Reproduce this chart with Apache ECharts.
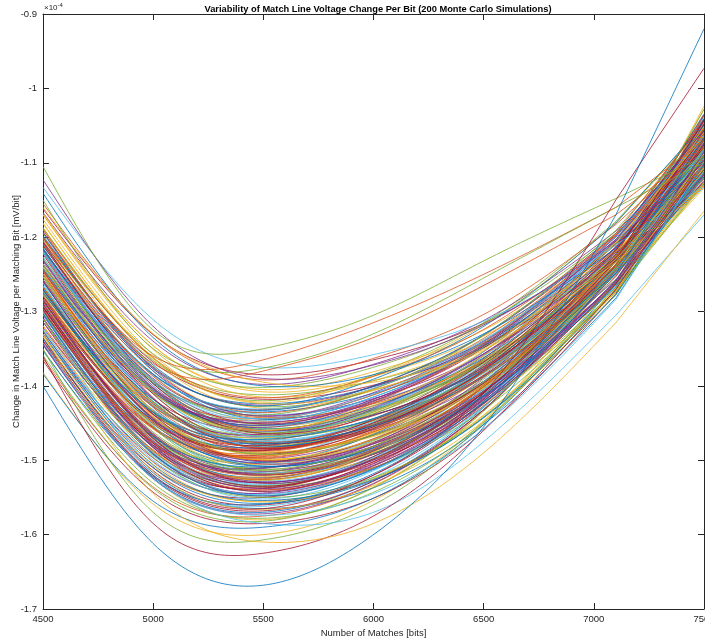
<!DOCTYPE html>
<html>
<head>
<meta charset="utf-8">
<script src="https://cdn.jsdelivr.net/npm/echarts@6/dist/echarts.min.js"></script>
<style>
  html, body { margin: 0; padding: 0; background: #fff; }
  #chart { width: 705px; height: 643px; }
</style>
</head>
<body>
<div id="chart"></div>
<script>
// Number of matching bits at which each simulated run was evaluated
const matches = [4500, 5000, 5500, 6000, 6500, 7100, 7500];

// Axis ticks
const xTicks = [4500, 5000, 5500, 6000, 6500, 7000, 7500];
const yTicks = [-1.7, -1.6, -1.5, -1.4, -1.3, -1.2, -1.1, -1.0, -0.9];

// Match line voltage change per matching bit (x1e-4 mV/bit), one row per Monte Carlo run
const runs001to020 = [
  [-1.242,-1.422,-1.478,-1.452,-1.382,-1.240,-1.101],
  [-1.319,-1.486,-1.525,-1.488,-1.401,-1.233,-1.058],
  [-1.187,-1.375,-1.442,-1.422,-1.364,-1.240,-1.126],
  [-1.279,-1.451,-1.498,-1.466,-1.387,-1.232,-1.075],
  [-1.188,-1.363,-1.420,-1.385,-1.315,-1.179,-1.050],
  [-1.304,-1.488,-1.542,-1.511,-1.427,-1.260,-1.086],
  [-1.268,-1.428,-1.465,-1.433,-1.359,-1.213,-1.070],
  [-1.277,-1.456,-1.508,-1.483,-1.411,-1.262,-1.113],
  [-1.274,-1.443,-1.487,-1.457,-1.382,-1.232,-1.083],
  [-1.334,-1.524,-1.580,-1.536,-1.433,-1.239,-1.028],
  [-1.241,-1.406,-1.450,-1.418,-1.346,-1.205,-1.067],
  [-1.284,-1.462,-1.512,-1.490,-1.419,-1.272,-1.125],
  [-1.214,-1.406,-1.475,-1.444,-1.371,-1.224,-1.079],
  [-1.339,-1.510,-1.550,-1.511,-1.418,-1.239,-1.049],
  [-1.215,-1.397,-1.457,-1.432,-1.368,-1.234,-1.106],
  [-1.296,-1.458,-1.495,-1.457,-1.374,-1.213,-1.049],
  [-1.170,-1.346,-1.405,-1.381,-1.325,-1.207,-1.103],
  [-1.289,-1.474,-1.530,-1.495,-1.409,-1.241,-1.067],
  [-1.261,-1.427,-1.470,-1.447,-1.381,-1.245,-1.113],
  [-1.250,-1.439,-1.502,-1.471,-1.394,-1.240,-1.084]
];
const runs021to040 = [
  [-1.336,-1.514,-1.560,-1.520,-1.424,-1.241,-1.044],
  [-1.237,-1.396,-1.435,-1.410,-1.349,-1.221,-1.103],
  [-1.284,-1.465,-1.518,-1.481,-1.395,-1.229,-1.056],
  [-1.265,-1.435,-1.481,-1.461,-1.398,-1.263,-1.134],
  [-1.293,-1.479,-1.535,-1.499,-1.412,-1.242,-1.064],
  [-1.201,-1.374,-1.428,-1.406,-1.348,-1.225,-1.113],
  [-1.266,-1.449,-1.505,-1.473,-1.394,-1.237,-1.078],
  [-1.254,-1.418,-1.460,-1.439,-1.377,-1.245,-1.122],
  [-1.344,-1.524,-1.570,-1.528,-1.429,-1.241,-1.037],
  [-1.274,-1.442,-1.485,-1.453,-1.376,-1.225,-1.074],
  [-1.273,-1.434,-1.472,-1.444,-1.373,-1.230,-1.090],
  [-1.308,-1.492,-1.545,-1.508,-1.418,-1.244,-1.060],
  [-1.220,-1.397,-1.452,-1.430,-1.370,-1.241,-1.120],
  [-1.241,-1.429,-1.492,-1.452,-1.368,-1.205,-1.039],
  [-1.162,-1.331,-1.385,-1.365,-1.316,-1.209,-1.120],
  [-1.287,-1.468,-1.520,-1.487,-1.404,-1.241,-1.074],
  [-1.253,-1.410,-1.446,-1.412,-1.340,-1.198,-1.061],
  [-1.330,-1.508,-1.555,-1.525,-1.440,-1.271,-1.093],
  [-1.230,-1.417,-1.480,-1.459,-1.394,-1.257,-1.124],
  [-1.293,-1.465,-1.510,-1.474,-1.391,-1.228,-1.060]
];
const runs041to060 = [
  [-1.219,-1.402,-1.462,-1.431,-1.360,-1.217,-1.077],
  [-1.327,-1.497,-1.538,-1.499,-1.408,-1.233,-1.048],
  [-1.212,-1.377,-1.424,-1.401,-1.343,-1.220,-1.108],
  [-1.244,-1.435,-1.500,-1.471,-1.396,-1.244,-1.091],
  [-1.382,-1.559,-1.600,-1.554,-1.447,-1.245,-1.024],
  [-1.257,-1.424,-1.468,-1.445,-1.381,-1.245,-1.116],
  [-1.284,-1.469,-1.526,-1.491,-1.406,-1.239,-1.066],
  [-1.210,-1.384,-1.438,-1.420,-1.364,-1.243,-1.133],
  [-1.294,-1.456,-1.493,-1.458,-1.377,-1.219,-1.060],
  [-1.237,-1.418,-1.476,-1.449,-1.379,-1.237,-1.097],
  [-1.302,-1.490,-1.548,-1.507,-1.413,-1.233,-1.042],
  [-1.240,-1.408,-1.455,-1.431,-1.367,-1.234,-1.108],
  [-1.285,-1.464,-1.515,-1.483,-1.402,-1.242,-1.078],
  [-1.203,-1.366,-1.412,-1.393,-1.342,-1.228,-1.129],
  [-1.292,-1.477,-1.532,-1.497,-1.411,-1.243,-1.068],
  [-1.258,-1.433,-1.484,-1.445,-1.363,-1.204,-1.042],
  [-1.336,-1.517,-1.565,-1.537,-1.452,-1.282,-1.103],
  [-1.244,-1.404,-1.444,-1.412,-1.342,-1.203,-1.069],
  [-1.278,-1.455,-1.506,-1.476,-1.398,-1.243,-1.086],
  [-1.217,-1.403,-1.466,-1.431,-1.354,-1.205,-1.056]
];
const runs061to080 = [
  [-1.272,-1.444,-1.490,-1.467,-1.399,-1.257,-1.117],
  [-1.283,-1.470,-1.528,-1.495,-1.411,-1.245,-1.074],
  [-1.218,-1.385,-1.432,-1.400,-1.332,-1.197,-1.068],
  [-1.330,-1.510,-1.558,-1.527,-1.442,-1.271,-1.091],
  [-1.280,-1.439,-1.474,-1.438,-1.359,-1.205,-1.052],
  [-1.258,-1.441,-1.498,-1.477,-1.410,-1.269,-1.130],
  [-1.167,-1.340,-1.398,-1.371,-1.312,-1.192,-1.085],
  [-1.267,-1.456,-1.518,-1.481,-1.395,-1.228,-1.055],
  [-1.236,-1.406,-1.454,-1.430,-1.367,-1.234,-1.109],
  [-1.314,-1.492,-1.540,-1.504,-1.416,-1.244,-1.063],
  [-1.236,-1.421,-1.482,-1.452,-1.378,-1.229,-1.082],
  [-1.363,-1.536,-1.575,-1.532,-1.432,-1.242,-1.036],
  [-1.206,-1.387,-1.448,-1.426,-1.365,-1.237,-1.117],
  [-1.314,-1.476,-1.510,-1.476,-1.394,-1.233,-1.069],
  [-1.227,-1.407,-1.464,-1.437,-1.369,-1.230,-1.096],
  [-1.302,-1.493,-1.552,-1.514,-1.422,-1.244,-1.055],
  [-1.200,-1.368,-1.418,-1.399,-1.346,-1.229,-1.127],
  [-1.299,-1.475,-1.523,-1.491,-1.409,-1.247,-1.081],
  [-1.246,-1.429,-1.488,-1.449,-1.365,-1.205,-1.041],
  [-1.303,-1.467,-1.504,-1.477,-1.403,-1.253,-1.102]
];
const runs081to100 = [
  [-1.220,-1.390,-1.440,-1.417,-1.357,-1.230,-1.113],
  [-1.299,-1.481,-1.534,-1.499,-1.413,-1.245,-1.069],
  [-1.273,-1.434,-1.471,-1.435,-1.358,-1.207,-1.056],
  [-1.366,-1.543,-1.585,-1.551,-1.458,-1.276,-1.080],
  [-1.208,-1.394,-1.459,-1.439,-1.378,-1.249,-1.128],
  [-1.280,-1.451,-1.496,-1.462,-1.382,-1.225,-1.066],
  [-1.181,-1.365,-1.430,-1.406,-1.347,-1.221,-1.107],
  [-1.310,-1.477,-1.516,-1.477,-1.389,-1.220,-1.044],
  [-1.217,-1.410,-1.479,-1.452,-1.381,-1.237,-1.096],
  [-1.345,-1.520,-1.562,-1.523,-1.428,-1.246,-1.051],
  [-1.211,-1.392,-1.451,-1.420,-1.349,-1.209,-1.073],
  [-1.259,-1.447,-1.508,-1.484,-1.413,-1.265,-1.117],
  [-1.290,-1.455,-1.494,-1.462,-1.385,-1.231,-1.076],
  [-1.168,-1.346,-1.408,-1.387,-1.333,-1.217,-1.115],
  [-1.330,-1.502,-1.544,-1.505,-1.414,-1.237,-1.051],
  [-1.220,-1.403,-1.463,-1.435,-1.365,-1.225,-1.089],
  [-1.331,-1.494,-1.528,-1.486,-1.394,-1.219,-1.034],
  [-1.221,-1.411,-1.477,-1.453,-1.386,-1.247,-1.112],
  [-1.384,-1.555,-1.590,-1.551,-1.452,-1.262,-1.056],
  [-1.210,-1.387,-1.443,-1.424,-1.367,-1.243,-1.131]
];
const runs101to120 = [
  [-1.242,-1.434,-1.500,-1.464,-1.382,-1.222,-1.059],
  [-1.206,-1.375,-1.426,-1.401,-1.340,-1.214,-1.099],
  [-1.310,-1.488,-1.536,-1.510,-1.432,-1.273,-1.110],
  [-1.261,-1.426,-1.469,-1.433,-1.354,-1.203,-1.051],
  [-1.286,-1.467,-1.520,-1.488,-1.407,-1.245,-1.080],
  [-1.285,-1.446,-1.483,-1.457,-1.387,-1.244,-1.104],
  [-1.205,-1.380,-1.436,-1.404,-1.336,-1.199,-1.069],
  [-1.319,-1.503,-1.556,-1.525,-1.439,-1.269,-1.089],
  [-1.233,-1.405,-1.456,-1.421,-1.346,-1.200,-1.056],
  [-1.266,-1.454,-1.514,-1.492,-1.422,-1.274,-1.127],
  [-1.265,-1.432,-1.475,-1.449,-1.379,-1.238,-1.100],
  [-1.343,-1.522,-1.568,-1.528,-1.432,-1.247,-1.048],
  [-1.194,-1.380,-1.445,-1.415,-1.347,-1.210,-1.079],
  [-1.297,-1.457,-1.491,-1.466,-1.396,-1.251,-1.109],
  [-1.176,-1.358,-1.422,-1.387,-1.318,-1.181,-1.052],
  [-1.305,-1.482,-1.530,-1.499,-1.417,-1.253,-1.085],
  [-1.253,-1.421,-1.467,-1.445,-1.381,-1.247,-1.119],
  [-1.301,-1.489,-1.547,-1.511,-1.421,-1.247,-1.063],
  [-1.283,-1.447,-1.486,-1.455,-1.380,-1.229,-1.079],
  [-1.270,-1.450,-1.503,-1.465,-1.381,-1.218,-1.050]
];
const runs121to140 = [
  [-1.155,-1.331,-1.392,-1.363,-1.304,-1.183,-1.076],
  [-1.325,-1.488,-1.522,-1.498,-1.425,-1.273,-1.119],
  [-1.216,-1.400,-1.461,-1.429,-1.357,-1.214,-1.074],
  [-1.351,-1.531,-1.578,-1.543,-1.449,-1.267,-1.071],
  [-1.253,-1.425,-1.473,-1.449,-1.383,-1.246,-1.113],
  [-1.293,-1.480,-1.537,-1.495,-1.401,-1.223,-1.035],
  [-1.243,-1.409,-1.453,-1.427,-1.362,-1.228,-1.101],
  [-1.267,-1.445,-1.497,-1.460,-1.378,-1.218,-1.054],
  [-1.170,-1.351,-1.415,-1.393,-1.338,-1.219,-1.114],
  [-1.322,-1.480,-1.511,-1.478,-1.397,-1.238,-1.075],
  [-1.310,-1.496,-1.550,-1.523,-1.442,-1.278,-1.108],
  [-1.221,-1.394,-1.447,-1.415,-1.344,-1.204,-1.069],
  [-1.249,-1.438,-1.501,-1.472,-1.396,-1.243,-1.090],
  [-1.216,-1.384,-1.433,-1.400,-1.331,-1.195,-1.064],
  [-1.300,-1.477,-1.526,-1.492,-1.407,-1.241,-1.069],
  [-1.284,-1.449,-1.489,-1.468,-1.402,-1.263,-1.127],
  [-1.345,-1.525,-1.572,-1.531,-1.432,-1.245,-1.042],
  [-1.238,-1.409,-1.458,-1.433,-1.368,-1.233,-1.105],
  [-1.262,-1.453,-1.517,-1.485,-1.405,-1.245,-1.081],
  [-1.271,-1.438,-1.480,-1.446,-1.368,-1.216,-1.063]
];
const runs141to160 = [
  [-1.198,-1.372,-1.427,-1.391,-1.320,-1.181,-1.048],
  [-1.304,-1.487,-1.540,-1.510,-1.427,-1.261,-1.090],
  [-1.253,-1.423,-1.470,-1.435,-1.359,-1.209,-1.059],
  [-1.259,-1.445,-1.505,-1.481,-1.410,-1.263,-1.116],
  [-1.195,-1.357,-1.402,-1.375,-1.316,-1.195,-1.087],
  [-1.304,-1.483,-1.533,-1.497,-1.410,-1.241,-1.064],
  [-1.207,-1.397,-1.464,-1.440,-1.375,-1.240,-1.110],
  [-1.353,-1.522,-1.559,-1.518,-1.421,-1.238,-1.041],
  [-1.249,-1.424,-1.476,-1.450,-1.381,-1.239,-1.101],
  [-1.249,-1.434,-1.493,-1.463,-1.388,-1.238,-1.087],
  [-1.285,-1.466,-1.519,-1.492,-1.415,-1.259,-1.101],
  [-1.230,-1.394,-1.439,-1.404,-1.332,-1.191,-1.055],
  [-1.323,-1.500,-1.546,-1.513,-1.428,-1.258,-1.081],
  [-1.223,-1.416,-1.484,-1.450,-1.372,-1.218,-1.064],
  [-1.301,-1.468,-1.509,-1.486,-1.414,-1.267,-1.119],
  [-1.190,-1.362,-1.416,-1.387,-1.324,-1.197,-1.079],
  [-1.286,-1.471,-1.527,-1.489,-1.400,-1.230,-1.051],
  [-1.246,-1.408,-1.449,-1.423,-1.357,-1.223,-1.096],
  [-1.359,-1.538,-1.582,-1.537,-1.434,-1.240,-1.028],
  [-1.227,-1.409,-1.468,-1.444,-1.379,-1.243,-1.112]
];
const runs161to180 = [
  [-1.286,-1.449,-1.487,-1.455,-1.379,-1.227,-1.076],
  [-1.326,-1.506,-1.554,-1.526,-1.443,-1.277,-1.103],
  [-1.201,-1.392,-1.460,-1.423,-1.345,-1.195,-1.046],
  [-1.276,-1.450,-1.499,-1.472,-1.398,-1.249,-1.100],
  [-1.193,-1.377,-1.441,-1.409,-1.340,-1.203,-1.071],
  [-1.301,-1.471,-1.513,-1.481,-1.401,-1.243,-1.080],
  [-1.133,-1.311,-1.375,-1.358,-1.313,-1.211,-1.130],
  [-1.290,-1.477,-1.535,-1.498,-1.409,-1.237,-1.057],
  [-1.275,-1.435,-1.472,-1.444,-1.374,-1.231,-1.092],
  [-1.299,-1.476,-1.524,-1.486,-1.399,-1.229,-1.053],
  [-1.332,-1.515,-1.566,-1.534,-1.447,-1.273,-1.088],
  [-1.231,-1.403,-1.453,-1.418,-1.344,-1.199,-1.056],
  [-1.254,-1.436,-1.492,-1.466,-1.395,-1.249,-1.105],
  [-1.222,-1.386,-1.431,-1.403,-1.338,-1.207,-1.085],
  [-1.294,-1.483,-1.542,-1.502,-1.409,-1.231,-1.043],
  [-1.270,-1.436,-1.478,-1.454,-1.388,-1.249,-1.114],
  [-1.298,-1.473,-1.520,-1.485,-1.401,-1.237,-1.066],
  [-1.182,-1.362,-1.424,-1.405,-1.352,-1.234,-1.130],
  [-1.123,-1.320,-1.390,-1.372,-1.318,-1.205,-1.100],
  [-1.350,-1.570,-1.607,-1.560,-1.450,-1.260,-1.090]
];
const runs181to200 = [
  [-1.219,-1.392,-1.444,-1.411,-1.340,-1.199,-1.063],
  [-1.280,-1.470,-1.531,-1.502,-1.423,-1.263,-1.098],
  [-1.141,-1.335,-1.400,-1.385,-1.330,-1.215,-1.090],
  [-1.190,-1.370,-1.380,-1.335,-1.265,-1.170,-1.080],
  [-1.160,-1.330,-1.395,-1.395,-1.350,-1.230,-1.100],
  [-1.259,-1.444,-1.502,-1.478,-1.407,-1.261,-1.115],
  [-1.105,-1.325,-1.350,-1.305,-1.232,-1.148,-1.092],
  [-1.300,-1.520,-1.585,-1.570,-1.475,-1.305,-1.170],
  [-1.360,-1.585,-1.625,-1.575,-1.460,-1.270,-1.100],
  [-1.303,-1.491,-1.548,-1.512,-1.423,-1.249,-1.066],
  [-1.200,-1.360,-1.365,-1.315,-1.250,-1.160,-1.070],
  [-1.330,-1.545,-1.610,-1.585,-1.490,-1.315,-1.165],
  [-1.284,-1.471,-1.529,-1.500,-1.420,-1.259,-1.094],
  [-1.150,-1.350,-1.376,-1.330,-1.255,-1.160,-1.100],
  [-1.342,-1.525,-1.574,-1.545,-1.458,-1.284,-1.099],
  [-1.340,-1.520,-1.565,-1.520,-1.410,-1.150,-0.973],
  [-1.400,-1.612,-1.668,-1.600,-1.455,-1.170,-0.920],
  [-1.246,-1.427,-1.483,-1.457,-1.388,-1.245,-1.105],
  [-1.236,-1.409,-1.460,-1.427,-1.353,-1.207,-1.064],
  [-1.298,-1.483,-1.538,-1.507,-1.424,-1.258,-1.086]
];

const allRuns = [].concat(
  runs001to020, runs021to040, runs041to060, runs061to080, runs081to100,
  runs101to120, runs121to140, runs141to160, runs161to180, runs181to200
);

// Default MATLAB line colour order
const lineColors = ['#0072BD', '#D95319', '#EDB120', '#7E2F8E', '#77AC30', '#4DBEEE', '#A2142F'];

const axisColor = '#262626';
const font = "'Liberation Sans Narrow', 'Arial Narrow', 'Liberation Sans', Arial, sans-serif";

// Natural cubic spline through (xs, ys); returns an evaluator
function naturalSpline(xs, ys) {
  const n = xs.length;
  const h = [], alpha = [], l = [1], mu = [0], z = [0];
  const b = [], c = new Array(n).fill(0), d = [];
  for (let i = 0; i < n - 1; i++) h[i] = xs[i + 1] - xs[i];
  for (let i = 1; i < n - 1; i++) {
    alpha[i] = 3 / h[i] * (ys[i + 1] - ys[i]) - 3 / h[i - 1] * (ys[i] - ys[i - 1]);
  }
  for (let i = 1; i < n - 1; i++) {
    l[i] = 2 * (xs[i + 1] - xs[i - 1]) - h[i - 1] * mu[i - 1];
    mu[i] = h[i] / l[i];
    z[i] = (alpha[i] - h[i - 1] * z[i - 1]) / l[i];
  }
  for (let j = n - 2; j >= 0; j--) {
    c[j] = z[j] - mu[j] * c[j + 1];
    b[j] = (ys[j + 1] - ys[j]) / h[j] - h[j] * (c[j + 1] + 2 * c[j]) / 3;
    d[j] = (c[j + 1] - c[j]) / (3 * h[j]);
  }
  return function (x) {
    let i = 0;
    while (i < n - 2 && x > xs[i + 1]) i++;
    const dx = x - xs[i];
    return ys[i] + b[i] * dx + c[i] * dx * dx + d[i] * dx * dx * dx;
  };
}

// Each run: smooth curve through every evaluated point up to the last-but-one,
// then a straight segment to the final evaluation.
function renderRun(params, api) {
  if (params.dataIndex !== 0) return null;
  const count = matches.length;
  const xs = [], ys = [];
  for (let j = 0; j < count; j++) {
    xs.push(api.value(0, j));
    ys.push(api.value(1, j));
  }
  const curveX = xs.slice(0, count - 1);
  const curveY = ys.slice(0, count - 1);
  const f = naturalSpline(curveX, curveY);
  const pts = [];
  const x0 = curveX[0], x1 = curveX[curveX.length - 1];
  const steps = 120;
  for (let k = 0; k <= steps; k++) {
    const x = x0 + (x1 - x0) * k / steps;
    pts.push(api.coord([x, f(x)]));
  }
  pts.push(api.coord([xs[count - 1], ys[count - 1]]));
  return {
    type: 'polyline',
    silent: true,
    shape: { points: pts },
    style: { stroke: lineColors[params.seriesIndex % lineColors.length], lineWidth: 0.8, fill: null }
  };
}

const chart = echarts.init(document.getElementById('chart'), null, { renderer: 'canvas' });

const series = allRuns.map((vals, i) => ({
  type: 'custom',
  name: 'Run ' + (i + 1),
  coordinateSystem: 'cartesian2d',
  xAxisIndex: 0,
  yAxisIndex: 0,
  data: vals.map((v, j) => [matches[j], v]),
  encode: { x: 0, y: 1 },
  renderItem: renderRun,
  silent: true,
  clip: true
}));

const xMin = xTicks[0], xMax = xTicks[xTicks.length - 1];
const yMin = yTicks[0], yMax = yTicks[yTicks.length - 1];
const yStep = 0.1, xStep = xTicks[1] - xTicks[0];

const yLabel = v => String(+v.toFixed(1));
const xLabel = v => String(Math.round(v));

chart.setOption({
  animation: false,
  backgroundColor: '#ffffff',
  color: lineColors,
  title: {
    text: 'Variability of Match Line Voltage Change Per Bit (200 Monte Carlo Simulations)',
    left: 373,
    top: 0,
    textAlign: 'center',
    textStyle: { fontFamily: font, fontSize: 9.3, fontWeight: 'bold', color: '#000' }
  },
  grid: { left: 43, right: 1, top: 14, bottom: 34, containLabel: false, outerBoundsMode: 'none' },
  xAxis: [{
    type: 'value', min: xMin, max: xMax, interval: xStep, position: 'bottom',
    name: 'Number of Matches [bits]', nameLocation: 'middle', nameGap: 19,
    nameMoveOverlap: false,
    nameTextStyle: { fontFamily: font, fontSize: 9.5, color: axisColor },
    axisLine: { show: true, lineStyle: { color: axisColor, width: 1 } },
    axisTick: { show: true, inside: true, length: 6, lineStyle: { color: axisColor } },
    axisLabel: { fontFamily: font, fontSize: 9.5, color: axisColor, margin: 5, formatter: xLabel },
    splitLine: { show: false }
  }, {
    type: 'value', min: xMin, max: xMax, interval: xStep, position: 'top',
    axisLine: { show: true, lineStyle: { color: axisColor, width: 1 } },
    axisTick: { show: true, inside: true, length: 6, lineStyle: { color: axisColor } },
    axisLabel: { show: false },
    splitLine: { show: false }
  }],
  yAxis: [{
    type: 'value', min: yMin, max: yMax, interval: yStep, position: 'left',
    name: 'Change in Match Line Voltage per Matching Bit [mV/bit]',
    nameLocation: 'middle', nameGap: 22,
    nameMoveOverlap: false,
    nameTextStyle: { fontFamily: font, fontSize: 9.5, color: axisColor },
    axisLine: { show: true, lineStyle: { color: axisColor, width: 1 } },
    axisTick: { show: true, inside: true, length: 6, lineStyle: { color: axisColor } },
    axisLabel: { fontFamily: font, fontSize: 9.5, color: axisColor, margin: 6, formatter: yLabel },
    splitLine: { show: false }
  }, {
    type: 'value', min: yMin, max: yMax, interval: yStep, position: 'right',
    axisLine: { show: true, lineStyle: { color: axisColor, width: 1 } },
    axisTick: { show: true, inside: true, length: 6, lineStyle: { color: axisColor } },
    axisLabel: { show: false },
    splitLine: { show: false }
  }],
  graphic: [{
    type: 'text',
    left: 44,
    top: 2,
    silent: true,
    style: {
      text: '{b|×10}{e|-4}',
      rich: {
        b: { fontFamily: font, fontSize: 8, fill: axisColor },
        e: { fontFamily: font, fontSize: 6, fill: axisColor, verticalAlign: 'top', padding: [0, 0, 5, 0] }
      }
    }
  }],
  series: series
});
</script>
</body>
</html>
